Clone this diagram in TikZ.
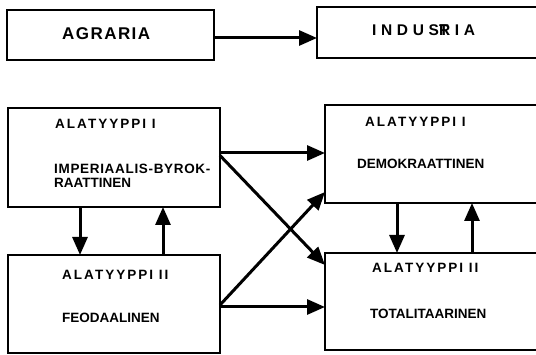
\documentclass[tikz,border=0pt]{standalone}
\usepackage{fontspec}
\setmainfont{Liberation Sans}
\usetikzlibrary{arrows.meta}
\begin{document}
\begin{tikzpicture}[x=1pt,y=-1pt,
  box/.style={draw, line width=2.6pt, inner sep=0pt, outer sep=0pt, rectangle},
  arr/.style={line width=3pt, -{Triangle[length=18pt,width=15pt]}},
  lbl/.style={anchor=west, inner sep=0pt, font=\fontsize{13.5}{14}\selectfont\bfseries},
  lblw/.style={anchor=west, inner sep=0pt, font=\fontsize{13.5}{14}\selectfont\bfseries\addfontfeatures{LetterSpace=5}},
  hdr/.style={anchor=west, inner sep=0pt, font=\fontsize{13.5}{14}\selectfont\bfseries\addfontfeatures{LetterSpace=15}},
  big/.style={anchor=west, inner sep=0pt, font=\fontsize{17}{18}\selectfont\bfseries\addfontfeatures{LetterSpace=8.5}},
  bigw/.style={anchor=west, inner sep=0pt, font=\fontsize{15.5}{18}\selectfont\bfseries\addfontfeatures{LetterSpace=30}},
]
\useasboundingbox (0,0) rectangle (536,355);
\begin{scope}
\clip (0,0) rectangle (536,355);
% boxes
\node[box, minimum width=207pt, minimum height=50pt] (agr) at (110.5,35) {};
\node[box, minimum width=228pt, minimum height=51pt] (ind) at (431,32.5) {};
\node[box, minimum width=212pt, minimum height=99pt] (lt) at (114,157.5) {};
\node[box, minimum width=212pt, minimum height=98pt] (lb) at (114,304) {};
\node[box, minimum width=220pt, minimum height=98pt] (rt) at (435,154) {};
\node[box, minimum width=220pt, minimum height=97pt] (rb) at (435,301.5) {};
% texts
\node[big] (tagr) at (62,33.5) {AGRARIA};
\node[bigw] (tind) at (372,30.5) {INDUS\rlap{T}RIA};
\node[hdr] (h1) at (55,124) {ALATYYPPI I};
\node[lblw] (t1a) at (54,169) {IMPERIAALIS-BYROK-};
\node[lbl] (t1b) at (54,183) {RAATTINEN};
\node[hdr] (h2) at (62,275) {ALATYYPPI II};
\node[lbl] (t2) at (62,318) {FEODAALINEN};
\node[hdr] (h3) at (365,121.5) {ALATYYPPI I};
\node[lbl] (t3) at (357,164) {DEMOKRAATTINEN};
\node[hdr] (h4) at (372,268) {ALATYYPPI II};
\node[lbl] (t4) at (370,314) {TOTALITAARINEN};
% arrows
\coordinate (a1) at ([yshift=-3pt]agr.east);
\draw[arr] (a1) -- (a1 -| ind.west);
\coordinate (s1) at ([yshift=4.5pt]lt.east);
\draw[arr] (s1) -- (s1 -| rt.west);
\coordinate (s2) at ([yshift=2pt]lt.east);
\coordinate (e2) at ([yshift=36.5pt]rb.west);
\draw[arr] (s2) -- (e2);
\coordinate (s3) at ([yshift=-3pt]lb.east);
\draw[arr] (s3) -- (s3 -| rb.west);
\coordinate (s4) at ([yshift=-1pt]lb.east);
\coordinate (e4) at ([yshift=-38pt]rt.west);
\draw[arr] (s4) -- (e4);
\coordinate (d1) at ([xshift=-34pt]lt.south);
\draw[arr] (d1) -- (d1 |- lb.north);
\coordinate (u1) at ([xshift=49pt]lb.north);
\draw[arr] (u1) -- (u1 |- lt.south);
\coordinate (d2) at ([xshift=-38pt]rt.south);
\draw[arr] (d2) -- (d2 |- rb.north);
\coordinate (u2) at ([xshift=37pt]rb.north);
\draw[arr] (u2) -- (u2 |- rt.south);
\end{scope}
\end{tikzpicture}
\end{document}
